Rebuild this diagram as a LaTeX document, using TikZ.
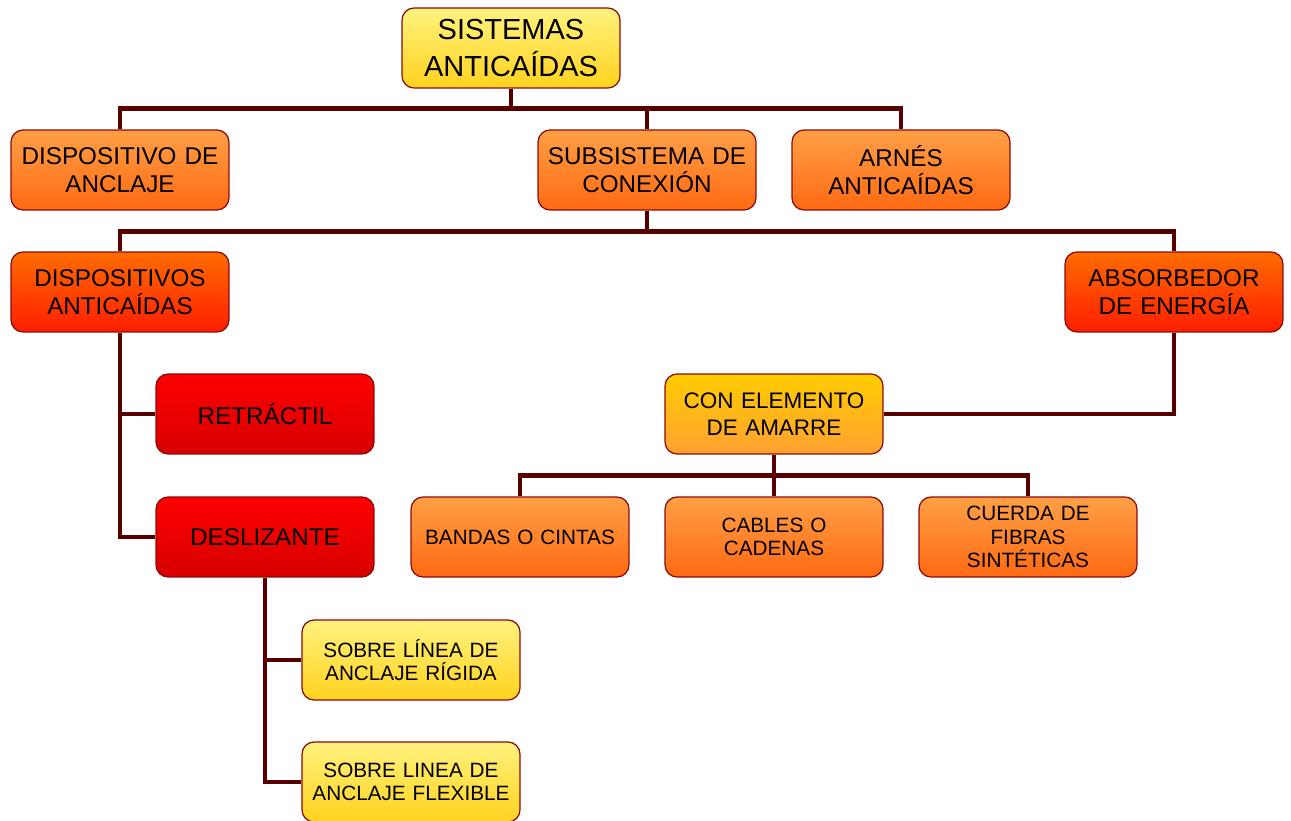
\documentclass[tikz,border=0pt]{standalone}
\usepackage{fontspec}
\setmainfont{Liberation Sans}
\usetikzlibrary{positioning}

\definecolor{linkred}{HTML}{560000}
\definecolor{edgered}{HTML}{8A0A0A}

\begin{document}
\begin{tikzpicture}[x=0.02cm, y=-0.02cm,
  box/.style={draw=edgered, line width=0.7pt, rounded corners=0.24cm, minimum width=4.36cm, minimum height=1.6cm, text width=4.1cm, align=center, inner sep=0pt},
  big/.style={font=\fontsize{16.5}{21}\selectfont},
  mid/.style={font=\fontsize{13.8}{16}\selectfont},
  small/.style={font=\fontsize{11.8}{13.3}\selectfont},
  yellowbox/.style={box, top color=yellow!45!white!90!orange, bottom color={rgb,255:red,255;green,210;blue,30}},
  orangebox/.style={box, top color={rgb,255:red,255;green,160;blue,70}, bottom color={rgb,255:red,255;green,105;blue,18}},
  flamebox/.style={box, top color={rgb,255:red,255;green,108;blue,0}, bottom color={rgb,255:red,255;green,30;blue,0}},
  redbox/.style={box, top color={rgb,255:red,255;green,0;blue,0}, bottom color={rgb,255:red,214;green,0;blue,0}},
  goldbox/.style={box, top color={rgb,255:red,255;green,205;blue,0}, bottom color={rgb,255:red,255;green,160;blue,50}},
  link/.style={draw=linkred, line width=2.8pt}]

\useasboundingbox (0,0) rectangle (1291,821);

% boxes
\node[yellowbox, big, minimum height=1.6cm] (sis) at (511,48) {SISTEMAS\\ANTICAÍDAS};
\node[orangebox, mid] (anclaje) at (120,170) {DISPOSITIVO DE\\ANCLAJE};
\node[orangebox, mid] (subsis) at (647,170) {SUBSISTEMA DE\\CONEXIÓN};
\node[orangebox, mid] (arnes) at (901,170) {ARNÉS\\ANTICAÍDAS};
\node[flamebox, mid] (dispanti) at (120,292) {DISPOSITIVOS\\ANTICAÍDAS};
\node[flamebox, mid] (absorb) at (1174,292) {ABSORBEDOR\\DE ENERGÍA};
\node[redbox, mid] (retractil) at (265,414) {RETRÁCTIL};
\node[redbox, mid] (deslizante) at (265,537) {DESLIZANTE};
\node[goldbox, font=\fontsize{12.8}{15.5}\selectfont] (elemento) at (774,414) {CON ELEMENTO\\DE AMARRE};
\node[orangebox, small] (bandas) at (520,537) {BANDAS O CINTAS};
\node[orangebox, small] (cables) at (774,537) {CABLES O\\CADENAS};
\node[orangebox, small] (cuerda) at (1028,537) {CUERDA DE\\FIBRAS\\SINTÉTICAS};
\node[yellowbox, small] (rigida) at (411,660) {SOBRE LÍNEA DE\\ANCLAJE RÍGIDA};
\node[yellowbox, small] (flexible) at (411,782) {SOBRE LINEA DE\\ANCLAJE FLEXIBLE};

% connectors
\draw[link] (sis.south) -- ++(0,20) coordinate (top);
\draw[link] (top) -| (anclaje.north);
\draw[link] (top) -| (subsis.north);
\draw[link] (top) -| (arnes.north);

\draw[link] (subsis.south) -- ++(0,21) coordinate (mid);
\draw[link] (mid) -| (dispanti.north);
\draw[link] (mid) -| (absorb.north);

\draw[link] (dispanti.south) |- (retractil.west);
\draw[link] (dispanti.south) |- (deslizante.west);

\draw[link] (absorb.south) |- (elemento.east);

\draw[link] (elemento.south) -- ++(0,21) coordinate (low);
\draw[link] (low) -| (bandas.north);
\draw[link] (low) -| (cables.north);
\draw[link] (low) -| (cuerda.north);

\draw[link] (deslizante.south) |- (rigida.west);
\draw[link] (deslizante.south) |- (flexible.west);

\end{tikzpicture}
\end{document}
